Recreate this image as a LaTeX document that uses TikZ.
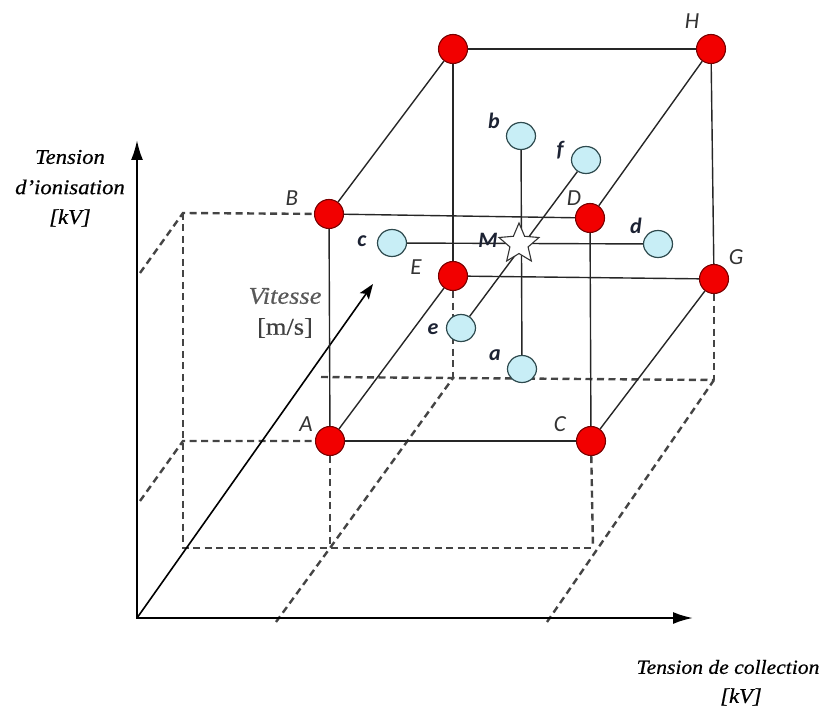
\documentclass[tikz,border=0pt]{standalone}
\usepackage{fontspec}
\setmainfont{Liberation Serif}
\newfontfamily\lblfont{Carlito}
\newfontfamily\axfont[FakeStretch=1.08,FakeBold=0.6]{Liberation Serif}
\newfontfamily\axfontb[FakeStretch=1.1,FakeBold=0.5]{Liberation Serif}
\usetikzlibrary{arrows.meta,shapes.geometric}
\pgfdeclarelayer{background}
\pgfsetlayers{background,main}
\definecolor{ptred}{HTML}{F20000}
\definecolor{ptredline}{HTML}{7A0000}
\definecolor{ptblue}{HTML}{C8EEF6}
\definecolor{ptblueline}{HTML}{2E4A4E}
\definecolor{dashgray}{HTML}{444444}
\definecolor{lblgray}{HTML}{333333}
\definecolor{lbldark}{HTML}{1C2233}
\begin{document}
\begin{tikzpicture}[x=1pt,y=-1pt,
  redpt/.style={circle,draw=ptredline,fill=ptred,line width=1.1pt,minimum size=29pt,inner sep=0pt},
  bluept/.style={ellipse,draw=ptblueline,fill=ptblue,line width=1.2pt,minimum width=29pt,minimum height=27pt,inner sep=0pt},
  starpt/.style={star,star points=5,star point ratio=2.2,minimum size=42pt,draw=black!80,fill=white,line width=1.1pt,inner sep=0pt},
  cubeline/.style={line width=1.4pt,black!85},
  projline/.style={line width=2.4pt,dashgray,dash pattern=on 7pt off 4.5pt},
  axisline/.style={line width=2.2pt,black,-{Latex[length=20pt,width=12pt]}},
  ulab/.style={font=\lblfont\itshape\fontsize{23}{25}\selectfont,text=lblgray},
  llab/.style={font=\lblfont\bfseries\itshape\fontsize{22}{24}\selectfont,text=lbldark},
  axlab/.style={font=\axfont\itshape\fontsize{21}{23}\selectfont,text=black},
]
\useasboundingbox (0,0) rectangle (828,711);

% cube vertices
\node[redpt] (A) at (330,441) {};
\node[redpt] (B) at (329,214) {};
\node[redpt] (C) at (591,441) {};
\node[redpt] (D) at (590,218) {};
\node[redpt] (E) at (453,276) {};
\node[redpt] (F) at (453,49) {};
\node[redpt] (G) at (714,279) {};
\node[redpt] (H) at (711,49) {};

% test points
\node[bluept] (b) at (521,136) {};
\node[bluept] (f) at (586,160) {};
\node[bluept] (c) at (392,243) {};
\node[bluept] (d) at (658,244) {};
\node[bluept] (e) at (461,328) {};
\node[bluept] (a) at (522,369) {};
\node[starpt] (M) at (519,244) {};

% axis coordinates
\coordinate (O) at (137,618);
\coordinate (Ytip) at (137,140);
\coordinate (Xtip) at (693,618);
\coordinate (Vtip) at (373,284);

% projection coordinates
\coordinate (wB) at (183,213);
\coordinate (wBa) at (140,273);
\coordinate (wA) at (183,441);
\coordinate (wAa) at (140,501);
\coordinate (fl0) at (183,548);
\coordinate (fA) at (330,548);
\coordinate (fC) at (593,548);
\coordinate (xA) at (276,622);
\coordinate (xC) at (547,622);
\coordinate (bE) at (453,378);
\coordinate (bG) at (714,380);
\coordinate (bV) at (321,377);

\begin{pgfonlayer}{background}
  % dashed projections
  \draw[projline] (wBa) -- (wB) -- (B);
  \draw[projline] (wAa) -- (wA) -- (A);
  \draw[projline] (wB) -- (fl0) -- (fC);
  \draw[projline] (A) -- (fA);
  \draw[projline] (C) -- (fC);
  \draw[projline] (xA) -- (fA) -- (bE);
  \draw[projline] (xC) -- (bG);
  \draw[projline] (bV) -- (bG);
  \draw[projline] (E) -- (bE);
  \draw[projline] (G) -- (bG);
  % axes
  \draw[axisline] (O) -- (Ytip);
  \draw[axisline] ([xshift=-1pt]O) -- (Xtip);
  \draw[line width=1.6pt,black,-{Stealth[length=15pt,width=11pt,inset=3pt]}] (O) -- (Vtip);
  % cube edges
  \draw[cubeline] (A) -- (C);
  \draw[cubeline] (A) -- (B);
  \draw[cubeline] (B) -- (D);
  \draw[cubeline] (C) -- (D);
  \draw[cubeline] (E) -- (G);
  \draw[cubeline] (E) -- (F);
  \draw[cubeline] (F) -- (H);
  \draw[cubeline] (G) -- (H);
  \draw[cubeline] (A) -- (E);
  \draw[cubeline] (B) -- (F);
  \draw[cubeline] (C) -- (G);
  \draw[cubeline] (D) -- (H);
  % lines through M
  \draw[cubeline] (b) -- (a);
  \draw[cubeline] (c) -- (d);
  \draw[cubeline] (e) -- (f);
\end{pgfonlayer}

% vertex labels
\node[ulab] (lH) at (692,21) {H};
\node[ulab] (lB) at (292,198) {B};
\node[ulab] (lD) at (574,198) {D};
\node[ulab] (lE) at (416,267) {E};
\node[ulab] (lG) at (736,257) {G};
\node[ulab] (lA) at (306,424) {A};
\node[ulab] (lC) at (560,424) {C};

% point labels
\node[llab] (lb) at (494,121) {b};
\node[llab] (lf) at (560,150) {f};
\node[llab] (lc) at (362,241) {c};
\node[llab] (ld) at (636,226) {d};
\node[llab] (lM) at (488,240) {M};
\node[llab] (le) at (433,329) {e};
\node[llab] (la) at (495,355) {a};

% axis labels
\node[axlab] (t1) at (70,157) {Tension};
\node[axlab] (t2) at (70,187) {d’ionisation};
\node[axlab] (t3) at (70,218) {[kV]};
\node[font=\axfontb\itshape\fontsize{24}{26}\selectfont,text=black!65] (v1) at (285,296) {Vitesse};
\node[font=\axfontb\fontsize{24}{26}\selectfont,text=black!75] (v2) at (285,328) {[m/s]};
\node[font=\axfont\itshape\fontsize{20}{22}\selectfont,text=black] (x1) at (728,667) {Tension de collection};
\node[axlab] (x2) at (741,697) {[kV]};
\end{tikzpicture}
\end{document}
